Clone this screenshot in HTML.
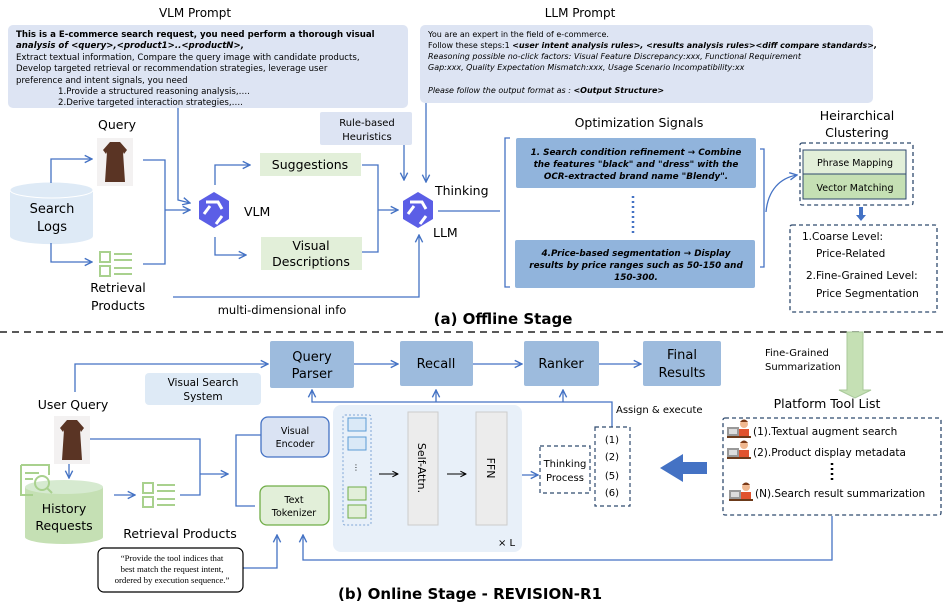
<!DOCTYPE html>
<html><head><meta charset="utf-8"><style>
html,body{margin:0;padding:0;background:#fff}
svg{display:block;font-family:"DejaVu Sans","Liberation Sans",sans-serif}
</style></head><body>
<svg width="947" height="615" viewBox="0 0 947 615" xmlns="http://www.w3.org/2000/svg">
<defs>
<marker id="a" viewBox="0 0 10 10" refX="9" refY="5" markerWidth="7" markerHeight="7" orient="auto"><path d="M1,1 L9,5 L1,9" fill="none" stroke="#4472c4" stroke-width="1.5"/></marker>
<marker id="k" viewBox="0 0 10 10" refX="9" refY="5" markerWidth="7" markerHeight="7" orient="auto"><path d="M1,1 L9,5 L1,9" fill="none" stroke="#000" stroke-width="1.5"/></marker>
<g id="q"><polygon points="18,0 33,9 33,27 18,36 3,27 3,9" fill="#5b5ee6"/><path d="M10,10 L22,10 L26,17 M26,24 L20,32 M8,22 L14,14" stroke="#fff" stroke-width="3" fill="none"/></g>
<g id="dress"><rect width="36" height="48" fill="#f3f1f1"/><path d="M13,4 L23,4 L30,12 L27,16 L26,14 L28,44 L8,44 L10,14 L9,16 L6,12 Z" fill="#5a3424"/></g>
<g id="list" fill="none" stroke="#a9d18e" stroke-width="2"><rect x="0" y="0" width="10" height="10"/><rect x="0" y="14" width="10" height="10"/><path d="M14,2 H32 M14,8 H32 M14,16 H32 M14,22 H32"/></g>
<g id="per"><rect x="0" y="8" width="12" height="9" fill="#999"/><rect x="2" y="10" width="8" height="5" fill="#ddd"/><circle cx="17" cy="5" r="4" fill="#f0b890"/><path d="M13,3 Q17,-2 21,3" fill="#7a3a18"/><rect x="12" y="10" width="10" height="8" fill="#e0532e"/><rect x="0" y="17" width="24" height="2" fill="#6b3a1a"/></g>
</defs>

<!-- prompts -->
<text x="195" y="17" font-size="12" text-anchor="middle">VLM Prompt</text>
<rect x="8" y="25" width="400" height="83" rx="5" fill="#dde4f3"/>
<g font-size="8.6">
<text x="16" y="37" font-weight="bold">This is a E-commerce search request, you need perform a thorough visual</text>
<text x="16" y="48" font-weight="bold" font-style="italic">analysis of &lt;query&gt;,&lt;product1&gt;..&lt;productN&gt;,</text>
<text x="16" y="60">Extract textual information, Compare the query image with candidate products,</text>
<text x="16" y="71">Develop targeted retrieval or recommendation strategies, leverage user</text>
<text x="16" y="83">preference and intent signals, you need</text>
<text x="58" y="94">1.Provide a structured reasoning analysis,….</text>
<text x="58" y="105">2.Derive targeted interaction strategies,….</text>
</g>
<text x="580" y="17" font-size="12" text-anchor="middle">LLM Prompt</text>
<rect x="420" y="25" width="453" height="78" rx="5" fill="#dde4f3"/>
<g font-size="8">
<text x="428" y="37">You are an expert in the field of e-commerce.</text>
<text x="428" y="48">Follow these steps:1 <tspan font-weight="bold" font-style="italic">&lt;user intent analysis rules&gt;, &lt;results analysis rules&gt;&lt;diff compare standards&gt;,</tspan></text>
<text x="428" y="59" font-style="italic">Reasoning possible no-click factors: Visual Feature Discrepancy:xxx, Functional Requirement</text>
<text x="428" y="70" font-style="italic">Gap:xxx, Quality Expectation Mismatch:xxx, Usage Scenario Incompatibility:xx</text>
<text x="428" y="93" font-style="italic">Please follow the output format as  :      <tspan font-weight="bold">&lt;Output Structure&gt;</tspan></text>
</g>

<!-- offline left -->
<text x="117" y="129" font-size="12.5" text-anchor="middle">Query</text>
<use href="#dress" x="97" y="138"/>
<path d="M10,190 v46 a41,8 0 0 0 83,0 v-46" fill="#deeaf6"/>
<ellipse cx="51.5" cy="190" rx="41.5" ry="8" fill="#deeaf6" stroke="#fff"/>
<text x="52" y="213" font-size="13" text-anchor="middle">Search</text>
<text x="52" y="231" font-size="13" text-anchor="middle">Logs</text>
<use href="#list" x="100" y="252"/>
<text x="118" y="292" font-size="12.5" text-anchor="middle">Retrieval</text>
<text x="118" y="310" font-size="12.5" text-anchor="middle">Products</text>
<g stroke="#4472c4" stroke-width="1.3" fill="none">
<path d="M51,183 V159 H92" marker-end="url(#a)"/>
<path d="M51,243 V262 H92" marker-end="url(#a)"/>
<path d="M143,160 H165 V264 H143"/>
<path d="M165,210 H190" marker-end="url(#a)"/>
<path d="M178,108 V200 L190,203" marker-end="url(#a)"/>
<path d="M215,185 V165 H250" marker-end="url(#a)"/>
<path d="M215,237 V255 H246" marker-end="url(#a)"/>
<path d="M362,165 H378 V252 H362"/>
<path d="M378,210 H398" marker-end="url(#a)"/>
<path d="M404,145 V180" marker-end="url(#a)"/>
<path d="M426,103 V182" marker-end="url(#a)"/>
<path d="M173,297 H419 V235" marker-end="url(#a)"/>
<path d="M438,211 H500"/>
<path d="M510,138 H505 V287 H510"/>
<path d="M760,149 H764 V267 H760"/>
<path d="M766,212 C768,190 780,178 797,175" marker-end="url(#a)"/>
</g>
<use href="#q" x="196" y="192"/>
<text x="244" y="216" font-size="12.5">VLM</text>
<rect x="260" y="153" width="101" height="23" fill="#e2efd9"/>
<text x="310" y="169" font-size="12.5" text-anchor="middle">Suggestions</text>
<rect x="261" y="237" width="101" height="33" fill="#e2efd9"/>
<text x="311" y="250" font-size="12.5" text-anchor="middle">Visual</text>
<text x="311" y="266" font-size="12.5" text-anchor="middle">Descriptions</text>
<rect x="320" y="112" width="92" height="33" rx="2" fill="#dde4f3"/>
<text x="367" y="126" font-size="10" text-anchor="middle">Rule-based</text>
<text x="367" y="140" font-size="10" text-anchor="middle">Heuristics</text>
<use href="#q" x="400" y="192"/>
<text x="435" y="195" font-size="12.5">Thinking</text>
<text x="433" y="237" font-size="12.5">LLM</text>
<text x="282" y="314" font-size="11.5" text-anchor="middle">multi-dimensional info</text>

<!-- optimization -->
<text x="639" y="127" font-size="12.5" text-anchor="middle">Optimization Signals</text>
<rect x="516" y="138" width="240" height="50" rx="2" fill="#91b4dc"/>
<rect x="515" y="240" width="240" height="48" rx="2" fill="#91b4dc"/>
<g font-size="8.8" font-style="italic" font-weight="bold" text-anchor="middle">
<text x="636" y="155">1. Search condition refinement → Combine</text>
<text x="636" y="167">the features "black" and "dress" with the</text>
<text x="636" y="179">OCR-extracted brand name "Blendy".</text>
<text x="636" y="256">4.Price-based segmentation → Display</text>
<text x="636" y="268">results by price ranges such as 50-150 and</text>
<text x="636" y="280">150-300.</text>
</g>
<line x1="633" y1="196" x2="633" y2="235" stroke="#4472c4" stroke-width="2.5" stroke-dasharray="2,3"/>
<text x="857" y="120" font-size="12.5" text-anchor="middle">Heirarchical</text>
<text x="857" y="137" font-size="12.5" text-anchor="middle">Clustering</text>
<rect x="800" y="143" width="113" height="62" rx="2" fill="none" stroke="#2f4a6e" stroke-width="1.3" stroke-dasharray="4,3"/>
<rect x="803" y="150" width="103" height="24" fill="#e2efd9" stroke="#2f4a6e"/>
<rect x="803" y="174" width="103" height="25" fill="#c5e0b4" stroke="#2f4a6e"/>
<text x="855" y="166" font-size="9.5" text-anchor="middle">Phrase Mapping</text>
<text x="855" y="191" font-size="9.5" text-anchor="middle">Vector Matching</text>
<path d="M859,207 h4 v8 h3 l-5,6 l-5,-6 h3 z" fill="#4472c4"/>
<rect x="790" y="225" width="147" height="87" rx="2" fill="none" stroke="#2f4a6e" stroke-width="1.3" stroke-dasharray="4,3"/>
<g font-size="10.5"><text x="802" y="240">1.Coarse Level:</text><text x="816" y="257">Price-Related</text><text x="806" y="279">2.Fine-Grained Level:</text><text x="816" y="297">Price Segmentation</text></g>
<text x="503" y="324" font-size="15" font-weight="bold" text-anchor="middle">(a) Offline Stage</text>
<line x1="0" y1="332" x2="947" y2="332" stroke="#222" stroke-width="1.5" stroke-dasharray="7,5"/>

<!-- online -->
<g stroke="#4472c4" stroke-width="1.3" fill="none">
<path d="M75,392 V364 H268" marker-end="url(#a)"/>
<path d="M354,364 H398" marker-end="url(#a)"/>
<path d="M473,364 H522" marker-end="url(#a)"/>
<path d="M599,364 H641" marker-end="url(#a)"/>
<path d="M612,427 V402 H312 V390" marker-end="url(#a)"/>
<path d="M436,402 V390" marker-end="url(#a)"/>
<path d="M563,402 V390" marker-end="url(#a)"/>
<path d="M89,439 H200 V495 H180"/>
<path d="M200,474 H228" marker-end="url(#a)"/>
<path d="M261,435 H236 V506 H255"/>
<path d="M69,463 V478" marker-end="url(#a)"/>
<path d="M114,495 H135" marker-end="url(#a)"/>
<path d="M241,568 H277 V535" marker-end="url(#a)"/>
<path d="M832,516 V560 H303 V535" marker-end="url(#a)"/>
<path d="M520,475 H538" marker-end="url(#a)"/>
</g>
<rect x="270" y="341" width="84" height="47" rx="2" fill="#9dbbdd"/>
<text x="312" y="361" font-size="13" text-anchor="middle">Query</text>
<text x="312" y="378" font-size="13" text-anchor="middle">Parser</text>
<rect x="400" y="341" width="73" height="45" rx="2" fill="#9dbbdd"/>
<text x="436" y="368" font-size="13" text-anchor="middle">Recall</text>
<rect x="524" y="341" width="75" height="45" rx="2" fill="#9dbbdd"/>
<text x="561" y="368" font-size="13" text-anchor="middle">Ranker</text>
<rect x="643" y="341" width="78" height="45" rx="2" fill="#9dbbdd"/>
<text x="682" y="359" font-size="13" text-anchor="middle">Final</text>
<text x="682" y="377" font-size="13" text-anchor="middle">Results</text>
<rect x="145" y="373" width="116" height="32" rx="4" fill="#deeaf6"/>
<text x="203" y="386" font-size="10.5" text-anchor="middle">Visual Search</text>
<text x="203" y="400" font-size="10.5" text-anchor="middle">System</text>
<text x="765" y="356" font-size="10">Fine-Grained</text>
<text x="765" y="370" font-size="10">Summarization</text>
<path d="M847,332 h16 v58 h8 l-16,8 l-16,-8 h8 z" fill="#c5e0b4" stroke="#a9c99a"/>
<text x="827" y="408" font-size="12.5" text-anchor="middle">Platform Tool List</text>
<rect x="723" y="418" width="218" height="97" rx="2" fill="none" stroke="#2f4a6e" stroke-width="1.3" stroke-dasharray="4,3"/>
<use href="#per" x="727" y="419"/><use href="#per" x="727" y="440"/><use href="#per" x="729" y="482"/>
<g font-size="10.5"><text x="753" y="435">(1).Textual augment search</text><text x="753" y="456">(2).Product display metadata</text><text x="755" y="497">(N).Search result summarization</text></g>
<line x1="832" y1="463" x2="832" y2="483" stroke="#000" stroke-width="2.5" stroke-dasharray="2,3"/>
<text x="73" y="409" font-size="12.5" text-anchor="middle">User Query</text>
<use href="#dress" x="54" y="416"/>
<path d="M25,487 v50 a39,7 0 0 0 78,0 v-50" fill="#c5e0b4"/>
<ellipse cx="64" cy="487" rx="39" ry="7" fill="#d6ead0"/>
<g fill="none" stroke="#a9d18e" stroke-width="2"><path d="M21,465 h28 v10 M21,465 v30 h12 M25,473 h14 M25,479 h8"/><circle cx="42" cy="483" r="7"/><path d="M47,488 l5,5"/></g>
<text x="64" y="513" font-size="12.5" text-anchor="middle">History</text>
<text x="64" y="530" font-size="12.5" text-anchor="middle">Requests</text>
<use href="#list" x="143" y="483"/>
<text x="180" y="538" font-size="12.5" text-anchor="middle">Retrieval Products</text>
<rect x="261" y="417" width="68" height="40" rx="7" fill="#dae3f3" stroke="#4472c4" stroke-width="1.3"/>
<text x="295" y="434" font-size="9.5" text-anchor="middle">Visual</text>
<text x="295" y="447" font-size="9.5" text-anchor="middle">Encoder</text>
<rect x="260" y="486" width="69" height="39" rx="7" fill="#e2efd9" stroke="#70ad47" stroke-width="1.3"/>
<text x="294" y="503" font-size="9.5" text-anchor="middle">Text</text>
<text x="294" y="516" font-size="9.5" text-anchor="middle">Tokenizer</text>
<rect x="333" y="405" width="189" height="147" rx="8" fill="#e8f0f9"/>
<rect x="343" y="415" width="28" height="110" rx="2" fill="none" stroke="#7fa6d6" stroke-dasharray="2,2"/>
<rect x="348" y="418" width="18" height="13" fill="#dae9f7" stroke="#5b9bd5"/>
<rect x="348" y="437" width="18" height="13" fill="#dae9f7" stroke="#5b9bd5"/>
<text x="352" y="470" font-size="8">⋮</text>
<rect x="348" y="487" width="18" height="13" fill="#e2efd9" stroke="#70ad47"/>
<rect x="348" y="505" width="18" height="13" fill="#e2efd9" stroke="#70ad47"/>
<rect x="408" y="412" width="30" height="113" fill="#ececec" stroke="#ccc"/>
<rect x="476" y="412" width="31" height="113" fill="#ececec" stroke="#ccc"/>
<text transform="translate(418,468) rotate(90)" font-size="11" text-anchor="middle">Self-Attn.</text>
<text transform="translate(487,468) rotate(90)" font-size="11" text-anchor="middle">FFN</text>
<line x1="379" y1="474" x2="398" y2="474" stroke="#000" marker-end="url(#k)"/>
<line x1="447" y1="474" x2="466" y2="474" stroke="#000" marker-end="url(#k)"/>
<text x="498" y="546" font-size="10">× L</text>
<rect x="540" y="446" width="50" height="47" fill="none" stroke="#2f4a6e" stroke-width="1.2" stroke-dasharray="4,3"/>
<text x="565" y="467" font-size="10" text-anchor="middle">Thinking</text>
<text x="565" y="481" font-size="10" text-anchor="middle">Process</text>
<rect x="595" y="427" width="35" height="79" fill="none" stroke="#2f4a6e" stroke-width="1.2" stroke-dasharray="4,3"/>
<g font-size="10" text-anchor="middle"><text x="612" y="443">(1)</text><text x="612" y="460">(2)</text><text x="612" y="479">(5)</text><text x="612" y="496">(6)</text></g>
<text x="616" y="413" font-size="10">Assign &amp; execute</text>
<path d="M707,462 h-24 v-8 l-23,14 l23,14 v-8 h24 z" fill="#4472c4"/>
<rect x="98" y="548" width="145" height="44" rx="6" fill="#fff" stroke="#000" stroke-width="1.2"/>
<g font-family="Liberation Serif,serif" font-size="8.8" text-anchor="middle"><text x="172" y="561">“Provide the tool indices that</text><text x="172" y="572">best match the request intent,</text><text x="172" y="583">ordered by execution sequence.”</text></g>
<text x="470" y="599" font-size="15" font-weight="bold" text-anchor="middle">(b) Online Stage - REVISION-R1</text>
</svg>
</body></html>
